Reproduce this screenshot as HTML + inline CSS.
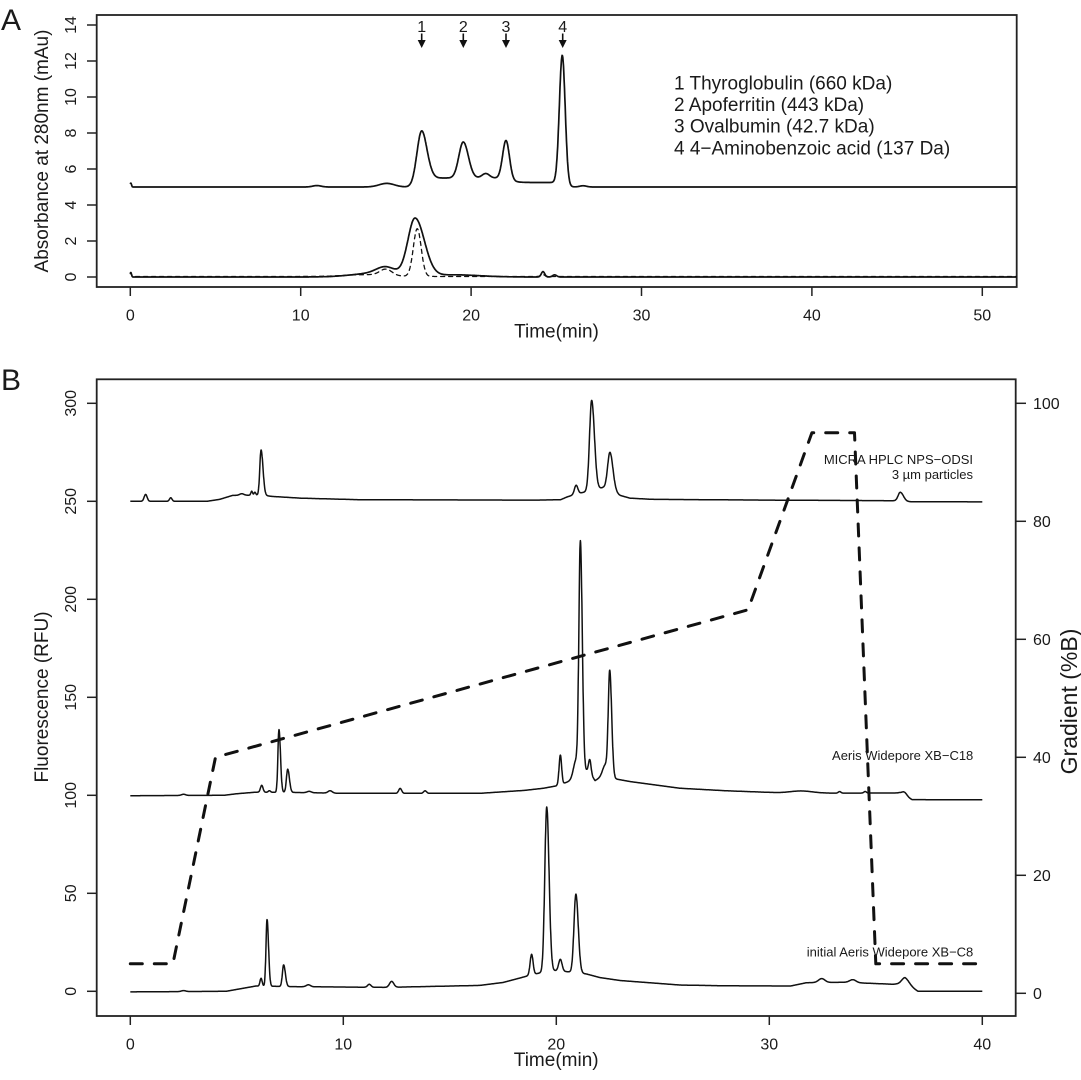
<!DOCTYPE html>
<html><head><meta charset="utf-8">
<style>
html,body{margin:0;padding:0;background:#fff;}
svg{display:block;}
text{font-family:"Liberation Sans",Arial,Helvetica,sans-serif;fill:#1a1a1a;}
</style></head><body>
<svg width="1081" height="1080" viewBox="0 0 1081 1080" xmlns="http://www.w3.org/2000/svg">
<rect width="1081" height="1080" fill="#fff"/>
<text x="1" y="30" font-size="30">A</text>
<text x="1" y="390" font-size="30">B</text>

<!-- ===== Panel A ===== -->
<rect x="96.7" y="15" width="920" height="272" fill="none" stroke="#222" stroke-width="1.8"/>
<g stroke="#222" stroke-width="1.5">
<line x1="130.3" y1="287" x2="130.3" y2="296"/><line x1="300.7" y1="287" x2="300.7" y2="296"/>
<line x1="471.1" y1="287" x2="471.1" y2="296"/><line x1="641.5" y1="287" x2="641.5" y2="296"/>
<line x1="811.9" y1="287" x2="811.9" y2="296"/><line x1="982.3" y1="287" x2="982.3" y2="296"/>
<line x1="87" y1="277" x2="96.7" y2="277"/><line x1="87" y1="241" x2="96.7" y2="241"/>
<line x1="87" y1="205" x2="96.7" y2="205"/><line x1="87" y1="169" x2="96.7" y2="169"/>
<line x1="87" y1="133" x2="96.7" y2="133"/><line x1="87" y1="97" x2="96.7" y2="97"/>
<line x1="87" y1="61" x2="96.7" y2="61"/><line x1="87" y1="25" x2="96.7" y2="25"/>
</g>
<g font-size="16" text-anchor="middle">
<text x="130.3" y="320.5">0</text><text x="300.7" y="320.5">10</text><text x="471.1" y="320.5">20</text>
<text x="641.5" y="320.5">30</text><text x="811.9" y="320.5">40</text><text x="982.3" y="320.5">50</text>
<text transform="translate(76,277) rotate(-90)">0</text>
<text transform="translate(76,241) rotate(-90)">2</text>
<text transform="translate(76,205) rotate(-90)">4</text>
<text transform="translate(76,169) rotate(-90)">6</text>
<text transform="translate(76,133) rotate(-90)">8</text>
<text transform="translate(76,97) rotate(-90)">10</text>
<text transform="translate(76,61) rotate(-90)">12</text>
<text transform="translate(76,25) rotate(-90)">14</text>
</g>
<text x="556.5" y="337.5" font-size="19" text-anchor="middle">Time(min)</text>
<text transform="translate(48,151) rotate(-90)" font-size="19" text-anchor="middle">Absorbance at 280nm (mAu)</text>

<g font-size="19">
<text x="674" y="89.3">1 Thyroglobulin (660 kDa)</text>
<text x="674" y="111">2 Apoferritin (443 kDa)</text>
<text x="674" y="132.7">3 Ovalbumin (42.7 kDa)</text>
<text x="674" y="154.3">4 4−Aminobenzoic acid (137 Da)</text>
</g>
<g font-size="16" text-anchor="middle">
<text x="421.7" y="32">1</text><text x="463.3" y="32">2</text>
<text x="506" y="32">3</text><text x="562.7" y="32">4</text>
</g>
<g stroke="#111" stroke-width="1.6">
<line x1="421.7" y1="33.5" x2="421.7" y2="41"/><line x1="463.3" y1="33.5" x2="463.3" y2="41"/>
<line x1="506" y1="33.5" x2="506" y2="41"/><line x1="562.7" y1="33.5" x2="562.7" y2="41"/>
</g>
<g fill="#111">
<polygon points="417.7,40 425.7,40 421.7,48"/><polygon points="459.3,40 467.3,40 463.3,48"/>
<polygon points="502,40 510,40 506,48"/><polygon points="558.7,40 566.7,40 562.7,48"/>
</g>
<path id="a1" d="" fill="none" stroke="#111" stroke-width="1.7" stroke-linejoin="round"/>
<path id="a2" d="" fill="none" stroke="#111" stroke-width="1.7" stroke-linejoin="round"/>
<path id="a3" d="" fill="none" stroke="#111" stroke-width="1.3" stroke-dasharray="4 4" stroke-linecap="round"/>

<!-- ===== Panel B ===== -->
<rect x="96.7" y="379.3" width="919" height="636.7" fill="none" stroke="#222" stroke-width="1.8"/>
<g stroke="#222" stroke-width="1.5">
<line x1="130.3" y1="1016" x2="130.3" y2="1025"/><line x1="343.3" y1="1016" x2="343.3" y2="1025"/>
<line x1="556.3" y1="1016" x2="556.3" y2="1025"/><line x1="769.3" y1="1016" x2="769.3" y2="1025"/>
<line x1="982.3" y1="1016" x2="982.3" y2="1025"/>
<line x1="87" y1="991.3" x2="96.7" y2="991.3"/><line x1="87" y1="893.3" x2="96.7" y2="893.3"/>
<line x1="87" y1="795.3" x2="96.7" y2="795.3"/><line x1="87" y1="697.3" x2="96.7" y2="697.3"/>
<line x1="87" y1="599.3" x2="96.7" y2="599.3"/><line x1="87" y1="501.3" x2="96.7" y2="501.3"/>
<line x1="87" y1="403.3" x2="96.7" y2="403.3"/>
<line x1="1015.7" y1="993.3" x2="1026" y2="993.3"/><line x1="1015.7" y1="875.3" x2="1026" y2="875.3"/>
<line x1="1015.7" y1="757.3" x2="1026" y2="757.3"/><line x1="1015.7" y1="639.3" x2="1026" y2="639.3"/>
<line x1="1015.7" y1="521.3" x2="1026" y2="521.3"/><line x1="1015.7" y1="403.3" x2="1026" y2="403.3"/>
</g>
<g font-size="16" text-anchor="middle">
<text x="130.3" y="1049.3">0</text><text x="343.3" y="1049.3">10</text><text x="556.3" y="1049.3">20</text>
<text x="769.3" y="1049.3">30</text><text x="982.3" y="1049.3">40</text>
<text transform="translate(76,991.3) rotate(-90)">0</text>
<text transform="translate(76,893.3) rotate(-90)">50</text>
<text transform="translate(76,795.3) rotate(-90)">100</text>
<text transform="translate(76,697.3) rotate(-90)">150</text>
<text transform="translate(76,599.3) rotate(-90)">200</text>
<text transform="translate(76,501.3) rotate(-90)">250</text>
<text transform="translate(76,403.3) rotate(-90)">300</text>
</g>
<g font-size="16">
<text x="1033" y="999">0</text><text x="1033" y="881">20</text><text x="1033" y="763">40</text>
<text x="1033" y="645">60</text><text x="1033" y="527">80</text><text x="1033" y="409">100</text>
</g>
<text x="556.2" y="1066" font-size="19" text-anchor="middle">Time(min)</text>
<text transform="translate(48,697) rotate(-90)" font-size="19" text-anchor="middle">Fluorescence (RFU)</text>
<text transform="translate(1077,701.5) rotate(-90)" font-size="23" text-anchor="middle">Gradient (%B)</text>

<path id="b1" d="" fill="none" stroke="#111" stroke-width="1.5" stroke-linejoin="round"/>
<path id="b2" d="" fill="none" stroke="#111" stroke-width="1.5" stroke-linejoin="round"/>
<path id="b3" d="" fill="none" stroke="#111" stroke-width="1.5" stroke-linejoin="round"/>
<polyline points="130.3,963.8 172.9,963.8 215.5,757.3 748,609.8 811.9,432.8 854.5,432.8 875.8,963.8 982.3,963.8" fill="none" stroke="#111" stroke-width="3" stroke-dasharray="12 12" stroke-linecap="round" stroke-linejoin="round"/>

<g font-size="13" text-anchor="end">
<text x="973" y="464">MICRA HPLC NPS−ODSI</text>
<text x="973" y="479">3 µm particles</text>
<text x="973.3" y="760">Aeris Widepore XB−C18</text>
<text x="973.3" y="956.5">initial Aeris Widepore XB−C8</text>
</g>
</svg>
<script>
function g(t,m,a,s){var z=(t-m)/s;return a*Math.exp(-0.5*z*z);}
function ag(t,m,a,sl,sr){var s=t<m?sl:sr;var z=(t-m)/s;return a*Math.exp(-0.5*z*z);}
function S(x){return 1/(1+Math.exp(-x));}
function ip(p,t){if(t<=p[0][0])return p[0][1];for(var i=1;i<p.length;i++){if(t<=p[i][0]){var a=p[i-1],b=p[i];return a[1]+(b[1]-a[1])*(t-a[0])/(b[0]-a[0]);}}return p[p.length-1][1];}
function mk(id,f,t0,t1,dt,X,Y){var d='';var n=Math.round((t1-t0)/dt);for(var i=0;i<=n;i++){var t=t0+i*dt;d+=(i?'L':'M')+X(t).toFixed(1)+' '+Y(f(t)).toFixed(1);}document.getElementById(id).setAttribute('d',d);}

var XA=function(t){return 130.3+17.04*t;}, YA=function(v){return 277-18*v;};
var XB=function(t){return 130.3+21.3*t;}, YB=function(v){return 991.3-1.96*v;};

function fA1(t){
 var bg=0.25*S((t-17.5)/0.12)*(1-S((t-25.6)/0.12))+0.25*S((t-17.5)/0.12)*(1-S((t-22.3)/0.25));
 return 5.0+bg+g(t,0.03,0.22,0.04)+g(t,10.95,0.08,0.25)+g(t,15.05,0.2,0.45)
  +ag(t,17.1,3.1,0.28,0.32)+ag(t,19.54,2.0,0.26,0.3)+g(t,20.86,0.25,0.22)
  +g(t,22.05,2.15,0.2)+g(t,25.35,7.1,0.17)+g(t,26.57,0.07,0.2);
}
function fA2(t){
 return g(t,0.03,0.25,0.04)+g(t,14.3,0.2,1.3)+g(t,15.0,0.4,0.55)+ag(t,16.71,3.2,0.42,0.55)
  +g(t,19,0.12,1.5)+g(t,24.22,0.3,0.1)+g(t,24.9,0.12,0.12);
}
function fA3(t){
 return 0.03+g(t,0.03,0.2,0.04)+g(t,13.8,0.1,1.2)+g(t,15.0,0.35,0.35)+g(t,16.84,2.65,0.23)+g(t,24.2,0.12,0.1);
}
var base1=[[0,250],[3.6,250],[4.2,251],[4.8,253],[6.1,253.2],[6.3,253],[6.64,252.5],[8,251.6],[10.8,250.8],[19,250.6],[20.2,250.8],[20.5,252.2],[20.93,253.7],[21.2,254.4],[21.66,255.5],[22.2,257],[22.52,256],[23,253],[23.46,251.6],[24.5,251],[30,250.6],[36,250.3],[36.4,249.8],[40,249.7]];
function fB1(t){
 return ip(base1,t)+g(t,0.72,3.5,0.07)+g(t,1.9,1.8,0.06)+g(t,5.23,0.8,0.1)+g(t,5.7,2,0.04)+g(t,5.85,1.5,0.04)
  +ag(t,6.14,23,0.06,0.09)+g(t,20.93,4.5,0.08)+ag(t,21.66,46,0.1,0.13)+ag(t,22.52,19,0.11,0.14)+ag(t,36.15,4.5,0.1,0.15);
}
var base2=[[0,99.8],[4.4,100],[5.0,100.8],[5.9,101.6],[7.5,101.5],[10,101],[16.4,101],[18.5,102.5],[19.4,103.6],[20.0,104.8],[20.33,106],[20.8,108],[21.13,110],[21.43,112.4],[21.6,111],[21.82,107.5],[22.05,109],[22.3,110.5],[22.5,111],[22.76,108.4],[23.47,107],[25.8,103.6],[28,102.3],[30.5,101.3],[33,101.1],[36.1,101.2],[36.7,97.8],[40,97.7]];
function fB2(t){
 return ip(base2,t)+g(t,2.5,0.6,0.1)+g(t,6.17,3.5,0.06)+g(t,6.53,0.8,0.05)+ag(t,6.98,32,0.05,0.07)+ag(t,7.39,11.8,0.06,0.08)
  +g(t,8.4,0.7,0.1)+g(t,9.38,1.2,0.1)+g(t,12.67,2.5,0.07)+g(t,13.84,1.3,0.07)
  +g(t,20.19,15,0.06)+g(t,20.92,9,0.12)+ag(t,21.13,118,0.07,0.09)+g(t,21.57,7,0.06)+g(t,22.29,5,0.12)+ag(t,22.51,52,0.07,0.09)
  +g(t,31.5,1,0.5)+g(t,33.3,0.8,0.06)+g(t,34.5,0.8,0.06)+g(t,36.34,1.8,0.12);
}
var base3=[[0,-0.3],[4.5,0],[5.9,2.7],[7.5,2.4],[12,2.0],[16.4,3.0],[17.5,4.5],[18.3,6.8],[18.7,8],[19.08,9],[19.5,10],[19.99,10.5],[20.52,10],[21.0,9.5],[21.43,8.8],[22.05,7],[23,5.5],[25.8,3.2],[28,2.8],[31,2.7],[31.75,4.4],[33.55,4.6],[35.8,3.6],[36.37,4],[36.98,0],[40,0]];
function fB3(t){
 return ip(base3,t)+g(t,2.5,0.5,0.1)+g(t,6.14,4,0.05)+ag(t,6.42,34,0.05,0.07)+ag(t,7.2,11,0.06,0.08)
  +g(t,8.36,1,0.1)+g(t,11.22,1.5,0.08)+g(t,12.27,3,0.1)
  +g(t,18.84,10.5,0.07)+ag(t,19.55,84,0.09,0.11)+g(t,20.19,6,0.08)+ag(t,20.92,40,0.09,0.11)
  +g(t,32.46,2,0.15)+g(t,33.92,1.5,0.15)+ag(t,36.37,3,0.15,0.2);
}
mk('a1',fA1,0,52,0.02,XA,YA);
mk('a2',fA2,0,52,0.02,XA,YA);
mk('a3',fA3,0,52,0.02,XA,YA);
mk('b1',fB1,0,40,0.01,XB,YB);
mk('b2',fB2,0,40,0.01,XB,YB);
mk('b3',fB3,0,40,0.01,XB,YB);
</script>
</body></html>
